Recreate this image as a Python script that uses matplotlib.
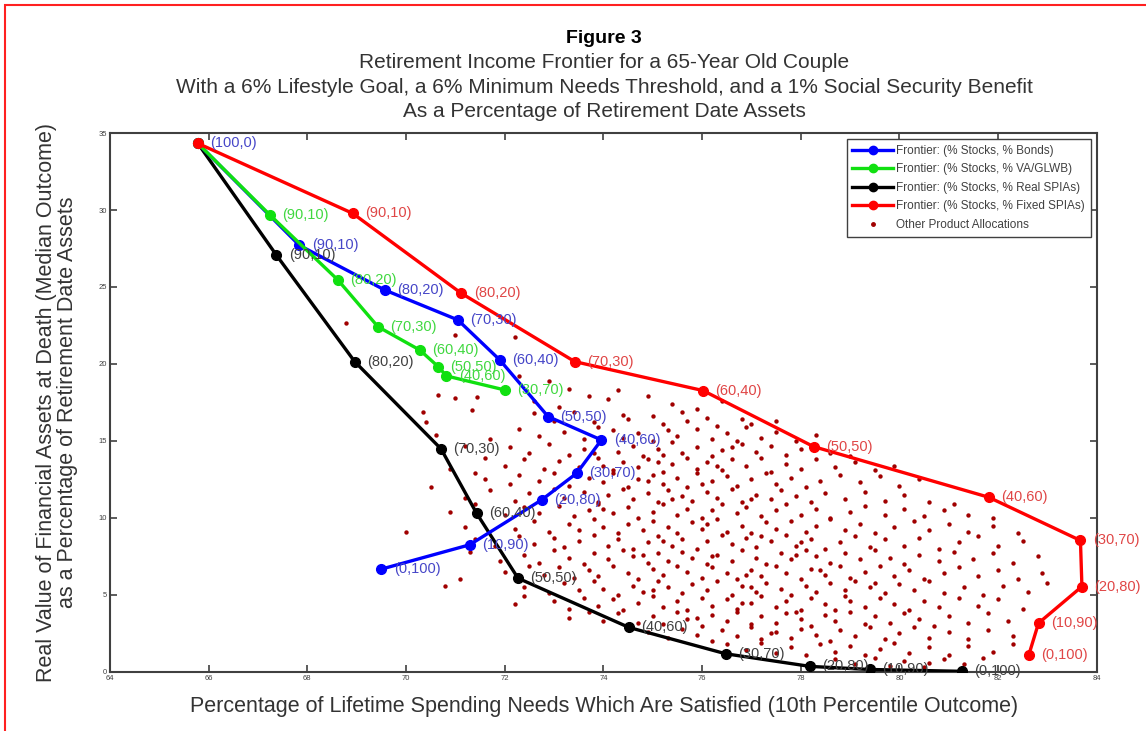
import matplotlib
matplotlib.use("Agg")
import matplotlib.pyplot as plt
from matplotlib.patches import Rectangle
from matplotlib.lines import Line2D

plt.rcParams['font.family'] = ['Liberation Sans', 'DejaVu Sans']

# allocation labels (% stocks, % other product)
alloc_labels = ["(100,0)", "(90,10)", "(80,20)", "(70,30)", "(60,40)", "(50,50)",
                "(40,60)", "(30,70)", "(20,80)", "(10,90)", "(0,100)"]

# frontier: stocks + bonds
bonds_x = [65.78, 67.84, 69.57, 71.05, 71.90, 72.88, 73.96, 73.46, 72.75, 71.29, 69.50]
bonds_y = [34.33, 27.70, 24.80, 22.86, 20.26, 16.58, 15.06, 12.90, 11.17, 8.25, 6.67]

# frontier: stocks + VA/GLWB (only up to 30,70)
va_x = [65.78, 67.24, 68.62, 69.43, 70.28, 70.65, 70.82, 72.00]
va_y = [34.33, 29.68, 25.45, 22.42, 20.90, 19.83, 19.22, 18.31]

# frontier: stocks + real SPIAs
real_x = [65.78, 67.37, 68.96, 70.71, 71.43, 72.27, 74.52, 76.48, 78.19, 79.40, 81.27]
real_y = [34.33, 27.08, 20.15, 14.48, 10.30, 6.08, 2.88, 1.17, 0.35, 0.15, 0.03]

# frontier: stocks + fixed SPIAs
fixed_x = [65.78, 68.92, 71.12, 73.42, 76.02, 78.26, 81.81, 83.67, 83.70, 82.82, 82.62]
fixed_y = [34.33, 29.78, 24.59, 20.15, 18.27, 14.63, 11.34, 8.53, 5.54, 3.16, 1.06]

other_pts = [
    (68.79, 22.64), (70.99, 21.88), (72.20, 21.77), (70.65, 17.99), (70.99, 17.80), (71.43, 17.88),
    (70.34, 16.90), (71.33, 17.00), (70.40, 16.20), (70.60, 15.40), (71.20, 14.70), (71.60, 13.90),
    (70.90, 13.20), (71.40, 12.90), (71.70, 15.10), (70.50, 12.00),
    (72.3, 19.2), (72.9, 18.9), (73.3, 18.4), (72.6, 17.6), (73.7, 17.9), (74.1, 17.7), (74.3, 18.3),
    (74.9, 17.9), (75.4, 17.4), (73.1, 17.2), (75.9, 17.1), (76.4, 17.6),
    (72.6, 16.8), (73.0, 16.3), (73.4, 16.9), (73.8, 16.2), (74.4, 16.7), (74.5, 16.4), (75.0, 16.6),
    (75.2, 16.1), (75.6, 16.9), (75.7, 16.3), (76.1, 16.5), (76.3, 16.0), (76.8, 16.4), (77.0, 16.1),
    (77.5, 16.3),
    (72.3, 15.8), (72.7, 15.3), (73.2, 15.6), (73.6, 15.1), (74.2, 15.7), (74.4, 15.2), (74.7, 15.5),
    (75.0, 15.0), (75.3, 15.7), (75.5, 15.3), (75.9, 15.8), (76.2, 15.1), (76.5, 15.5), (76.9, 15.9),
    (77.2, 15.2), (77.5, 15.6), (77.9, 15.0), (78.3, 15.4), (73.9, 15.9), (76.7, 15.0),
    (72.1, 14.6), (72.5, 14.2), (72.9, 14.8), (73.3, 14.1), (73.6, 14.5), (74.0, 14.9), (74.3, 14.3),
    (74.6, 14.7), (74.8, 14.0), (75.1, 14.5), (75.4, 14.9), (75.6, 14.2), (75.9, 14.6), (76.2, 14.0),
    (76.4, 14.4), (76.8, 14.8), (77.1, 14.3), (77.4, 14.7), (77.7, 14.1), (78.0, 14.5), (78.6, 14.2),
    (79.0, 14.0), (73.8, 14.2), (75.2, 14.1), (76.6, 14.6),
    (72.0, 13.4), (72.4, 13.8), (72.8, 13.2), (73.1, 13.7), (73.5, 13.3), (73.9, 13.9), (74.2, 13.1),
    (74.4, 13.6), (74.7, 13.3), (74.9, 13.8), (75.2, 13.0), (75.4, 13.5), (75.7, 13.9), (75.9, 13.2),
    (76.1, 13.6), (76.4, 13.1), (76.6, 13.8), (76.9, 13.4), (77.2, 13.9), (77.4, 13.0), (77.7, 13.5),
    (78.0, 13.2), (78.3, 13.8), (78.7, 13.3), (79.1, 13.6), (79.5, 13.1), (79.9, 13.4), (75.1, 13.6),
    (76.3, 13.4), (74.0, 13.4),
    (71.6, 12.5), (72.1, 12.2), (72.3, 12.8), (72.7, 12.4), (73.0, 12.9), (73.3, 12.1), (73.7, 12.6),
    (74.0, 12.3), (74.2, 12.9), (74.5, 12.0), (74.7, 12.5), (75.0, 12.8), (75.2, 12.2), (75.5, 12.6),
    (75.7, 12.0), (75.9, 12.9), (76.2, 12.4), (76.5, 12.7), (76.7, 12.1), (77.0, 12.5), (77.3, 12.9),
    (77.5, 12.2), (77.8, 12.6), (78.1, 12.0), (78.4, 12.4), (78.8, 12.8), (79.2, 12.3), (79.6, 12.7),
    (80.0, 12.1), (80.4, 12.5), (74.9, 12.4), (76.0, 12.2),
    (71.2, 11.3), (71.7, 11.8), (72.2, 11.1), (72.5, 11.6), (73.0, 11.9), (73.2, 11.3), (73.6, 11.7),
    (73.9, 11.0), (74.1, 11.5), (74.4, 11.9), (74.6, 11.2), (74.9, 11.6), (75.1, 11.0), (75.3, 11.8),
    (75.6, 11.4), (75.8, 11.1), (76.1, 11.7), (76.3, 11.3), (76.6, 11.9), (76.8, 11.0), (77.1, 11.5),
    (77.4, 11.2), (77.6, 11.8), (77.9, 11.4), (78.2, 11.0), (78.5, 11.6), (78.9, 11.2), (79.3, 11.7),
    (79.7, 11.1), (80.1, 11.5), (80.6, 11.0), (81.1, 10.9), (75.4, 11.2), (77.0, 11.2),
    (70.9, 10.4), (71.4, 10.9), (72.0, 10.2), (72.4, 10.7), (72.7, 10.3), (73.1, 10.8), (73.4, 10.1),
    (73.7, 10.5), (73.9, 10.9), (74.2, 10.3), (74.5, 10.7), (74.7, 10.0), (75.0, 10.4), (75.2, 10.9),
    (75.5, 10.2), (75.7, 10.6), (76.0, 10.0), (76.2, 10.5), (76.4, 10.9), (76.7, 10.3), (76.9, 10.7),
    (77.2, 10.1), (77.5, 10.5), (77.7, 10.9), (78.0, 10.2), (78.3, 10.6), (78.6, 10.0), (79.0, 10.4),
    (79.3, 10.8), (79.7, 10.2), (80.1, 10.6), (80.5, 10.1), (80.9, 10.5), (81.4, 10.2), (81.9, 10.0),
    (74.0, 10.6),
    (72.2, 9.3), (72.6, 9.8), (72.9, 9.1), (73.3, 9.6), (73.5, 9.2), (73.8, 9.9), (74.0, 9.4),
    (74.3, 9.0), (74.5, 9.6), (74.8, 9.2), (75.0, 9.8), (75.3, 9.4), (75.5, 9.0), (75.8, 9.7),
    (76.0, 9.3), (76.3, 9.9), (76.5, 9.1), (76.8, 9.5), (77.0, 9.0), (77.3, 9.7), (77.5, 9.3),
    (77.8, 9.8), (78.1, 9.1), (78.3, 9.5), (78.6, 9.9), (78.9, 9.2), (79.2, 9.6), (79.5, 9.0),
    (79.9, 9.4), (80.3, 9.8), (80.6, 9.2), (81.0, 9.6), (81.4, 9.1), (81.9, 9.5), (82.4, 9.0),
    (70.0, 9.1), (71.2, 9.4), (76.1, 9.6),
    (71.4, 8.6), (71.8, 8.2), (72.3, 8.8), (72.6, 8.3), (73.0, 8.7), (73.2, 8.1), (73.5, 8.5),
    (73.8, 8.9), (74.1, 8.2), (74.3, 8.6), (74.6, 8.0), (74.9, 8.4), (75.1, 8.8), (75.4, 8.2),
    (75.6, 8.6), (75.9, 8.0), (76.1, 8.5), (76.4, 8.9), (76.6, 8.3), (76.9, 8.7), (77.1, 8.1),
    (77.4, 8.5), (77.7, 8.9), (77.9, 8.2), (78.2, 8.6), (78.5, 8.0), (78.8, 8.4), (79.1, 8.8),
    (79.4, 8.1), (79.7, 8.6), (80.1, 8.2), (80.4, 8.7), (80.8, 8.0), (81.2, 8.4), (81.6, 8.8),
    (82.0, 8.2), (82.5, 8.5), (75.2, 8.5), (77.2, 8.8), (78.0, 8.4),
    (71.3, 7.8), (71.9, 7.2), (72.4, 7.6), (72.7, 7.1), (73.0, 7.9), (73.3, 7.4), (73.6, 7.0),
    (73.8, 7.7), (74.1, 7.3), (74.4, 7.9), (74.6, 7.5), (74.9, 7.1), (75.1, 7.7), (75.3, 7.2),
    (75.6, 7.8), (75.8, 7.4), (76.1, 7.0), (76.3, 7.6), (76.6, 7.2), (76.8, 7.9), (77.1, 7.4),
    (77.3, 7.0), (77.6, 7.7), (77.8, 7.3), (78.1, 7.9), (78.3, 7.5), (78.6, 7.1), (78.9, 7.7),
    (79.2, 7.3), (79.5, 7.9), (79.8, 7.4), (80.1, 7.0), (80.4, 7.6), (80.8, 7.2), (81.1, 7.8),
    (81.5, 7.3), (81.9, 7.7), (82.3, 7.1), (82.8, 7.5), (76.2, 7.5), (77.9, 7.6), (74.8, 7.6),
    (72.0, 6.5), (72.5, 6.9), (72.8, 6.3), (73.1, 6.8), (73.4, 6.1), (73.7, 6.6), (73.9, 6.2),
    (74.2, 6.9), (74.5, 6.4), (74.7, 6.0), (75.0, 6.7), (75.2, 6.3), (75.5, 6.9), (75.7, 6.5),
    (76.0, 6.1), (76.2, 6.8), (76.5, 6.4), (76.7, 6.0), (77.0, 6.6), (77.2, 6.2), (77.5, 6.9),
    (77.7, 6.4), (78.0, 6.0), (78.2, 6.7), (78.5, 6.3), (78.8, 6.9), (79.0, 6.1), (79.3, 6.5),
    (79.6, 6.9), (79.9, 6.2), (80.2, 6.6), (80.5, 6.0), (80.9, 6.4), (81.2, 6.8), (81.6, 6.2),
    (82.0, 6.6), (82.4, 6.0), (82.9, 6.4), (70.8, 5.6), (71.1, 6.0), (76.9, 6.3), (78.4, 6.6),
    (72.4, 5.5), (72.9, 5.1), (73.2, 5.8), (73.5, 5.3), (73.8, 5.9), (74.0, 5.4), (74.3, 5.0),
    (74.6, 5.6), (74.8, 5.2), (75.1, 5.9), (75.3, 5.5), (75.6, 5.1), (75.8, 5.7), (76.1, 5.3),
    (76.3, 5.9), (76.6, 5.0), (76.8, 5.6), (77.1, 5.2), (77.3, 5.8), (77.6, 5.4), (77.8, 5.0),
    (78.1, 5.6), (78.3, 5.2), (78.6, 5.8), (78.9, 5.3), (79.1, 5.9), (79.4, 5.5), (79.7, 5.1),
    (80.0, 5.7), (80.3, 5.3), (80.6, 5.9), (80.9, 5.1), (81.3, 5.5), (81.7, 5.0), (82.1, 5.6),
    (82.6, 5.2), (83.0, 5.8), (77.0, 5.5), (79.5, 5.8), (75.0, 5.3),
    (72.2, 4.4), (72.4, 4.9), (73.0, 4.6), (73.3, 4.1), (73.6, 4.8), (73.9, 4.3), (74.2, 4.7),
    (74.4, 4.0), (74.7, 4.5), (75.0, 4.9), (75.2, 4.2), (75.5, 4.6), (75.7, 4.0), (76.0, 4.8),
    (76.2, 4.3), (76.5, 4.7), (76.7, 4.1), (77.0, 4.5), (77.2, 4.9), (77.5, 4.2), (77.7, 4.6),
    (78.0, 4.0), (78.2, 4.8), (78.5, 4.4), (78.7, 4.0), (79.0, 4.6), (79.3, 4.2), (79.6, 4.8),
    (79.9, 4.4), (80.2, 4.0), (80.5, 4.6), (80.8, 4.2), (81.2, 4.8), (81.6, 4.3), (82.0, 4.7),
    (82.5, 4.1), (76.8, 4.5), (78.9, 4.9),
    (73.3, 3.5), (73.7, 3.9), (74.0, 3.3), (74.3, 3.8), (74.7, 3.2), (75.0, 3.6), (75.2, 3.1),
    (75.5, 3.9), (75.7, 3.4), (76.0, 3.0), (76.2, 3.7), (76.5, 3.3), (76.7, 3.9), (77.0, 3.1),
    (77.2, 3.6), (77.5, 3.2), (77.7, 3.8), (78.0, 3.4), (78.2, 3.0), (78.5, 3.7), (78.7, 3.3),
    (79.0, 3.9), (79.3, 3.1), (79.5, 3.6), (79.8, 3.2), (80.1, 3.8), (80.4, 3.4), (80.7, 3.0),
    (81.0, 3.6), (81.4, 3.2), (81.8, 3.8), (82.2, 3.3), (77.9, 3.9), (75.9, 3.5),
    (74.9, 2.6), (75.3, 2.2), (75.6, 2.8), (75.9, 2.4), (76.2, 2.0), (76.4, 2.7), (76.7, 2.3),
    (77.0, 2.9), (77.2, 2.1), (77.5, 2.6), (77.8, 2.2), (78.0, 2.8), (78.3, 2.4), (78.6, 2.0),
    (78.8, 2.7), (79.1, 2.3), (79.4, 2.9), (79.7, 2.1), (80.0, 2.5), (80.3, 2.9), (80.6, 2.2),
    (81.0, 2.6), (81.4, 2.1), (81.8, 2.7), (82.3, 2.3), (77.4, 2.5),
    (76.5, 1.8), (76.9, 1.4), (77.2, 1.9), (77.5, 1.2), (77.8, 1.6), (78.1, 1.1), (78.4, 1.8),
    (78.7, 1.3), (79.0, 1.7), (79.3, 1.1), (79.6, 1.5), (79.9, 1.9), (80.2, 1.2), (80.6, 1.6),
    (81.0, 1.1), (81.4, 1.7), (81.9, 1.3), (82.3, 1.8),
    (78.7, 0.8), (79.1, 0.5), (79.5, 0.9), (79.8, 0.4), (80.1, 0.7), (80.5, 0.3), (80.9, 0.8),
    (81.3, 0.5), (81.7, 0.9), (80.6, 0.6),
]
other_x = [p[0] for p in other_pts]
other_y = [p[1] for p in other_pts]

legend_labels = ["Frontier: (% Stocks, % Bonds)",
                 "Frontier: (% Stocks, % VA/GLWB)",
                 "Frontier: (% Stocks, % Real SPIAs)",
                 "Frontier: (% Stocks, % Fixed SPIAs)",
                 "Other Product Allocations"]

fig = plt.figure(figsize=(11.46, 7.31), dpi=100)
ax = fig.add_axes([0.096, 0.081, 0.861, 0.737])

dot_col = '#a00000'
ax.scatter(other_x, other_y, s=10, color=dot_col, zorder=1, linewidths=0)

series = [
    (real_x, real_y, 'black', '#404040'),
    (bonds_x, bonds_y, '#0000ff', '#4646c8'),
    (va_x, va_y, '#10e010', '#40d840'),
    (fixed_x, fixed_y, '#ff0000', '#e04646'),
]
for sx, sy, col, tcol in series:
    ax.plot(sx, sy, '-o', color=col, lw=2.4, ms=7, zorder=3)
    for i in range(1, len(sx)):
        ax.annotate(alloc_labels[i], (sx[i], sy[i]), xytext=(9, 0), textcoords='offset points',
                    ha='left', va='center', fontsize=10.5, color=tcol, zorder=4,
                    annotation_clip=False)
ax.annotate(alloc_labels[0], (bonds_x[0], bonds_y[0]), xytext=(9, 0), textcoords='offset points',
            ha='left', va='center', fontsize=10.5, color='#4646c8', zorder=4)

ax.set_xlim(64, 84)
ax.set_ylim(0, 35)
ax.set_xticks(range(64, 85, 2))
ax.set_yticks(range(0, 36, 5))
ax.tick_params(direction='in', top=True, right=True, labelsize=5.5, colors='#404040',
               length=5, width=1.2, pad=2)
for s in ax.spines.values():
    s.set_color('#404040')
    s.set_linewidth(1.5)

handles = [Line2D([], [], color=c, lw=2.4, marker='o', ms=6) for c in ['#0000ff', '#10e010', 'black', '#ff0000']]
handles.append(Line2D([], [], color=dot_col, lw=0, marker='o', ms=2.5))
leg = ax.legend(handles, legend_labels, loc='upper right', fontsize=8.5, handlelength=3.4,
                frameon=True, fancybox=False, framealpha=1, edgecolor='#404040',
                borderaxespad=0.5, labelspacing=0.55, handletextpad=0.3, borderpad=0.5)
leg.get_frame().set_linewidth(1.0)
for t in leg.get_texts():
    t.set_color('#404040')

cx = 0.527
fig.text(cx, 0.948, "Figure 3", ha='center', va='center', fontsize=14, fontweight='bold')
fig.text(cx, 0.915, "Retirement Income Frontier for a 65-Year Old Couple", ha='center', va='center',
         fontsize=15, color='#333333')
fig.text(cx, 0.880, "With a 6% Lifestyle Goal, a 6% Minimum Needs Threshold, and a 1% Social Security Benefit",
         ha='center', va='center', fontsize=15, color='#333333')
fig.text(cx, 0.847, "As a Percentage of Retirement Date Assets", ha='center', va='center',
         fontsize=15, color='#333333')

fig.text(cx, 0.033, "Percentage of Lifetime Spending Needs Which Are Satisfied (10th Percentile Outcome)",
         ha='center', va='center', fontsize=15.5, color='#333333')
fig.text(0.05, 0.45, "Real Value of Financial Assets at Death (Median Outcome)\nas a Percentage of Retirement Date Assets",
         ha='center', va='center', rotation=90, fontsize=15.5, color='#333333', multialignment='center',
         linespacing=1.0)

fig.patches.append(Rectangle((0.004, -0.2), 1.2, 0.193 + 1.0, transform=fig.transFigure,
                             fill=False, edgecolor='#ff2020', lw=1.5))

fig.savefig("out.png", dpi=100)
